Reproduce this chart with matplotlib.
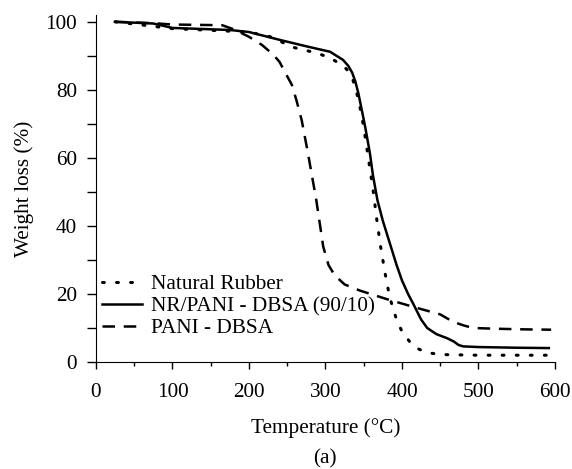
import matplotlib.pyplot as plt
from matplotlib.ticker import MultipleLocator

# TGA curves
t_nr = [25, 100, 150, 200, 230, 256, 289, 306, 321, 328, 335, 340, 345, 350, 354, 362, 367, 372, 378, 384, 393, 400, 410, 420, 432, 450, 500, 550, 595]
w_nr = [100, 98, 97.5, 97, 95.5, 92.6, 90.8, 89.4, 87.4, 86, 83.5, 80, 75, 69, 63, 51, 42, 34, 26, 19, 12.4, 9, 6, 4, 2.8, 2.2, 2, 2, 2]

t_blend = [25, 75, 100, 175, 200, 240, 275, 306, 323, 330, 335, 339, 343, 348, 352, 358, 362, 368, 375, 384, 393, 400, 408, 415, 425, 433, 445, 459, 468, 474, 480, 500, 550, 592]
w_blend = [100, 99.5, 98.2, 97.6, 97, 94.7, 92.8, 91.2, 88.8, 87, 85, 82.5, 79, 73.5, 69, 61.5, 55, 47.5, 41.5, 35, 28.5, 24, 20, 17, 12.5, 10, 8.2, 7, 6, 5, 4.6, 4.4, 4.2, 4.1]

t_pani = [25, 75, 100, 165, 180, 200, 217, 232, 240, 249, 256, 262, 269, 277, 288, 297, 304, 312, 325, 345, 380, 415, 450, 467, 480, 493, 520, 560, 595]
w_pani = [100, 99.6, 99.2, 99, 97.8, 95.6, 93.2, 90.3, 88.2, 84.4, 81.5, 77, 71, 61.5, 47.6, 34, 28.5, 25.5, 22.8, 21, 18.5, 16.2, 14, 11.8, 10.8, 10, 9.8, 9.6, 9.5]

plt.rcParams['font.family'] = ['Liberation Serif', 'DejaVu Serif']

fig = plt.figure(figsize=(5.72, 4.69), dpi=100)
ax = fig.add_axes([0.1678, 0.2281, 0.8024, 0.7399])

ax.plot(t_nr, w_nr, color='black', lw=2.2, linestyle=(0, (0.6, 4.0)),
        dash_capstyle='round', label='Natural Rubber')
ax.plot(t_blend, w_blend, color='black', lw=1.8, label='NR/PANI - DBSA (90/10)')
ax.plot(t_pani, w_pani, color='black', lw=1.8, linestyle=(0, (5, 3.5)),
        label='PANI - DBSA')

ax.set_xlim(0, 600)
ax.set_ylim(0, 102)
ax.xaxis.set_major_locator(MultipleLocator(100))
ax.xaxis.set_minor_locator(MultipleLocator(50))
ax.yaxis.set_major_locator(MultipleLocator(20))
ax.yaxis.set_minor_locator(MultipleLocator(10))
ax.set_yticks([0, 20, 40, 60, 80, 100])
ax.tick_params(axis='y', which='both', direction='out', length=6.5, width=1,
               labelsize=15.3, pad=7)
ax.tick_params(axis='x', which='major', direction='out', length=5, width=1,
               labelsize=15.3, pad=10)
ax.tick_params(axis='x', which='minor', direction='out', length=3, width=1)
ax.spines['top'].set_visible(False)
ax.spines['right'].set_visible(False)

ax.set_xlabel('Temperature (°C)', fontsize=15.3, labelpad=12)
ax.set_ylabel('Weight loss (%)', fontsize=15.3, labelpad=8)

ax.legend(loc='upper left', bbox_to_anchor=(0.013, 0.252), frameon=False,
          fontsize=15.3, handlelength=1.9, handletextpad=0.4, labelspacing=0.1,
          borderaxespad=0, borderpad=0)

fig.text(0.568, 0.022, '(a)', fontsize=15.3, ha='center', va='center')

fig.savefig('out.png', dpi=100)
